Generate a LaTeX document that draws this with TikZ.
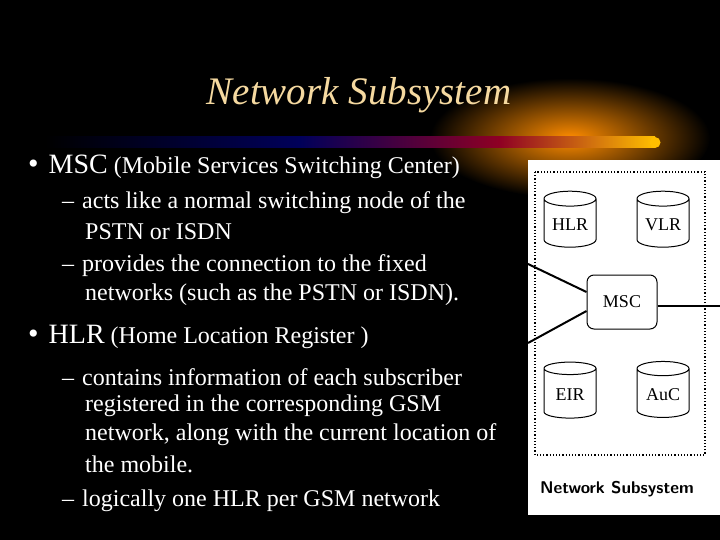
\documentclass[tikz,border=0pt]{standalone}
\usepackage{fontspec}
\setmainfont{Liberation Serif}
\usetikzlibrary{shapes.geometric}
\definecolor{titlec}{HTML}{F5D9A0}
\tikzset{
 txt/.style={anchor=west,text=white,font=\fontsize{24}{28}\selectfont,inner sep=0pt},
 db/.style={cylinder,shape border rotate=90,draw=black,line width=1pt,minimum width=52pt,minimum height=56pt,aspect=0.35,font=\fontsize{18}{20}\selectfont,fill=white},
 lnk/.style={line width=2pt,black}
}
\begin{document}
\begin{tikzpicture}[x=1pt,y=-1pt]
\fill[black] (0,0) rectangle (720,540);
\useasboundingbox (0,0) rectangle (720,540);
% glow
\shade[inner color=orange!90!yellow, outer color=black] (570,138) ellipse (140 and 60);
\fill[black] (430,60) rectangle (720,78);
% bar
\shade[left color=black, right color=blue!35!black] (45,137) rectangle (300,148);
\shade[left color=blue!35!black, right color=purple!80!red!70!black] (299.5,137) rectangle (500,148);
\shade[left color=purple!80!red!70!black, right color=orange!50!yellow] (499.5,137) rectangle (655,148);
\fill[orange!50!yellow] (655,142.5) circle (5.5);
\node[text=titlec,font=\fontsize{39}{44}\itshape] (title) at (359,95) {Network Subsystem};
% text
\node[txt] (b1) at (28,167) {{\fontsize{30}{30}\selectfont•}\hspace{10pt}{\fontsize{28}{30}\selectfont MSC} (Mobile Services Switching Center)};
\node[txt] (s1a) at (62,203) {–\hspace{8pt}acts like a normal switching node of the};
\node[txt] (s1b) at (85,232) {PSTN or ISDN};
\node[txt] (s1c) at (62,266) {–\hspace{8pt}provides the connection to the fixed};
\node[txt] (s1d) at (85,295) {networks (such as the PSTN or ISDN).};
\node[txt] (b2) at (28,337) {{\fontsize{30}{30}\selectfont•}\hspace{10pt}{\fontsize{28}{30}\selectfont HLR} (Home Location Register )};
\node[txt] (s2a) at (62,377) {–\hspace{8pt}contains information of each subscriber};
\node[txt] (s2b) at (85,406) {registered in the corresponding GSM};
\node[txt] (s2c) at (85,435) {network, along with the current location of};
\node[txt] (s2d) at (85,464) {the mobile.};
\node[txt] (s2e) at (62,501) {–\hspace{8pt}logically one HLR per GSM network};
% diagram
\fill[white] (528,160) rectangle (720,515);
\draw[black,line width=1.2pt,dotted] (535,172) rectangle (705,455);
\node[db] (hlr) at (570,225) {HLR};
\node[db] (vlr) at (663,225) {VLR};
\node[db] (eir) at (570,395) {EIR};
\node[db] (auc) at (663,395) {AuC};
\node[draw=black,line width=1pt,rounded corners=7pt,minimum width=70pt,minimum height=54pt,fill=white,font=\fontsize{18}{20}\selectfont] (msc) at (622,302) {MSC};
\coordinate (l1) at (528,264);
\coordinate (l2) at (528,343);
\coordinate (r1) at (720,306);
\draw[lnk] (l1) -- (msc.west |- 0,292);
\draw[lnk] (l2) -- (msc.west |- 0,311);
\draw[lnk] (msc.east |- r1) -- (r1);
\node[font=\sffamily\bfseries\fontsize{17}{20}\selectfont,text=black] (cap) at (617,489) {Network Subsystem};
\end{tikzpicture}
\end{document}
